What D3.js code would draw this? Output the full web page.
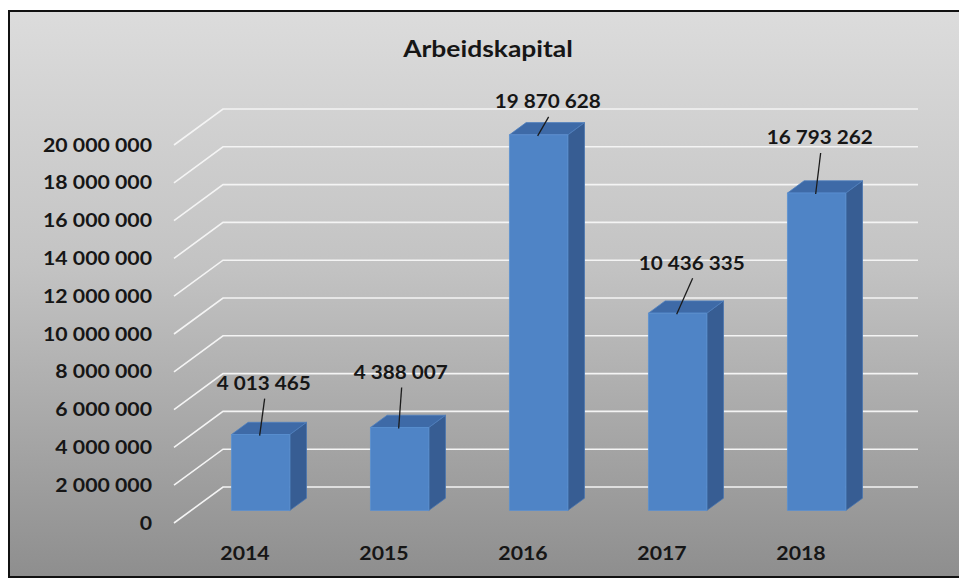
<!doctype html>
<html lang="nb">
  <head>
    <meta charset="UTF-8" />
    <title>Arbeidskapital</title>
    <style>
      html, body { margin: 0; padding: 0; background: #fff; overflow: hidden; }
      svg { display: block; overflow: hidden; }
      text { font-family: Lato, "Open Sans", sans-serif; font-weight: bold; fill: #161616; }
    </style>
  </head>
  <body>
    <svg id="chart"></svg>
    <script src="https://d3js.org/d3.v7.min.js"></script>
    <script>
      /* global d3 */

      // data
      const title = "Arbeidskapital";
      const years = ["2014", "2015", "2016", "2017", "2018"];
      const values = [4013465, 4388007, 19870628, 10436335, 16793262];
      const yTicks = [0, 2000000, 4000000, 6000000, 8000000, 10000000,
        12000000, 14000000, 16000000, 18000000, 20000000];

      // layout
      const width = 959, height = 580;
      const stretch = 1.15; // text in the picture is a bit wide
      const depth = { dx: 49, dy: -36 }; // floor depth in screen px
      const barDepth = [0.35, 0.69]; // bar front / back, as share of depth
      // hand placed data labels, relative to top of bar front
      const labelNudge = [[3, -51], [1, -55], [9, -33], [14, -50], [3, -55]];

      const fmt = (v) => d3.format(",")(v).replace(/,/g, " ");

      const svg = d3.select("#chart")
        .attr("width", width)
        .attr("height", height)
        .attr("viewBox", [0, 0, width, height]);

      const defs = svg.append("defs");
      const bg = defs.append("linearGradient")
        .attr("id", "bg").attr("x1", 0).attr("y1", 0).attr("x2", 0).attr("y2", 1);
      bg.append("stop").attr("offset", "0%").attr("stop-color", "#dcdcdc");
      bg.append("stop").attr("offset", "45%").attr("stop-color", "#c3c3c3");
      bg.append("stop").attr("offset", "100%").attr("stop-color", "#8e8e8e");

      // chart area runs off the right edge of the picture: border on 3 sides only
      svg.append("rect")
        .attr("x", 9).attr("y", 11)
        .attr("width", width - 9).attr("height", 566)
        .attr("fill", "url(#bg)");
      svg.append("path")
        .attr("d", `M${width},11H9V577H${width}`)
        .attr("fill", "none")
        .attr("stroke", "#111").attr("stroke-width", 2);

      const x = d3.scaleBand().domain(years).range([174, 869]);
      const y = d3.scaleLinear().domain([0, 20000000]).range([523, 145]);
      const proj = (xf, v, z) => [xf + z * depth.dx, y(v) + z * depth.dy];

      // title
      svg.append("text")
        .attr("transform", `translate(488,57) scale(${stretch},1)`)
        .attr("text-anchor", "middle")
        .style("font-size", "23px")
        .text(title);

      // gridlines: short diagonal on the side wall, then along the back wall
      const line = d3.line();
      svg.append("g")
        .selectAll("path")
        .data(yTicks)
        .join("path")
        .attr("d", (v) => line([proj(174, v, 0), proj(174, v, 1), [918, y(v) + depth.dy]]))
        .attr("fill", "none")
        .attr("stroke", "#f4f4f4")
        .attr("stroke-width", 1.6);

      // y axis labels
      svg.append("g")
        .selectAll("text")
        .data(yTicks)
        .join("text")
        .attr("transform", (v) => `translate(152,${y(v)}) scale(${stretch},1)`)
        .attr("dy", "0.36em")
        .attr("text-anchor", "end")
        .style("font-size", "18.5px")
        .text(fmt);

      // category labels
      svg.append("g")
        .selectAll("text")
        .data(years)
        .join("text")
        .attr("transform", (d) => `translate(${x(d) + x.bandwidth() / 2 + 1.5},553) scale(${stretch},1)`)
        .attr("dy", "0.36em")
        .attr("text-anchor", "middle")
        .style("font-size", "18.5px")
        .text((d) => d);

      // 3d bars
      const barW = x.bandwidth() * 0.42;
      const [z0, z1] = barDepth;
      const bars = years.map((yr, i) => {
        const xf0 = x(yr) + (x.bandwidth() - barW) / 2;
        return { yr, v: values[i], xf0, xf1: xf0 + barW, i };
      });

      const g = svg.append("g");
      bars.forEach((b) => {
        const side = [proj(b.xf1, 0, z0), proj(b.xf1, b.v, z0), proj(b.xf1, b.v, z1), proj(b.xf1, 0, z1)];
        const top = [proj(b.xf0, b.v, z0), proj(b.xf1, b.v, z0), proj(b.xf1, b.v, z1), proj(b.xf0, b.v, z1)];
        const front = [proj(b.xf0, 0, z0), proj(b.xf0, b.v, z0), proj(b.xf1, b.v, z0), proj(b.xf1, 0, z0)];
        g.append("path").attr("d", line(side) + "Z")
          .attr("fill", "#375d93").attr("stroke", "#4a76b0").attr("stroke-width", 0.8);
        g.append("path").attr("d", line(top) + "Z")
          .attr("fill", "#3e6aa7").attr("stroke", "#4f80bf").attr("stroke-width", 0.8);
        g.append("path").attr("d", line(front) + "Z")
          .attr("fill", "#4f84c6").attr("stroke", "#5b90d2").attr("stroke-width", 0.8);
      });

      // data labels with leader lines
      const lab = svg.append("g");
      bars.forEach((b) => {
        const [tx, ty] = proj(b.xf0 + barW / 2, b.v, z0);
        const [nx, ny] = labelNudge[b.i];
        const lx = tx + nx, ly = ty + ny;
        lab.append("line")
          .attr("x1", lx + 1).attr("y1", ly + 15)
          .attr("x2", tx - 1).attr("y2", ty + 1)
          .attr("stroke", "#1b1b1b").attr("stroke-width", 1.3);
        lab.append("text")
          .attr("transform", `translate(${lx},${ly}) scale(${stretch},1)`)
          .attr("dy", "0.36em")
          .attr("text-anchor", "middle")
          .style("font-size", "18px")
          .text(fmt(b.v));
      });
    </script>
  </body>
</html>
